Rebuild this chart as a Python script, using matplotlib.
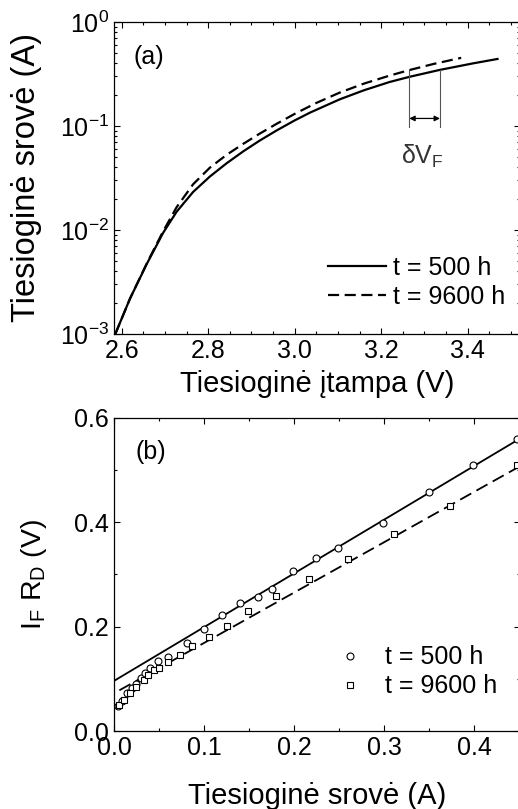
import numpy as np
import matplotlib
matplotlib.use("Agg")
import matplotlib.pyplot as plt
from matplotlib.ticker import MultipleLocator, LogLocator, NullFormatter

plt.rcParams['font.family'] = ['Liberation Sans', 'DejaVu Sans']
plt.rcParams['mathtext.fontset'] = 'custom'
plt.rcParams['mathtext.rm'] = 'Liberation Sans'
plt.rcParams['mathtext.it'] = 'Liberation Sans'
plt.rcParams['mathtext.sf'] = 'Liberation Sans'

# (a) I-V curves
v_500 = [2.585, 2.619, 2.658, 2.696, 2.727, 2.765, 2.804, 2.842, 2.881, 2.919,
         2.958, 3.000, 3.035, 3.104, 3.160, 3.219, 3.265, 3.335, 3.411, 3.469]
i_500 = [0.001, 0.00219, 0.00473, 0.00944, 0.0150, 0.0232, 0.0327, 0.0436,
         0.0570, 0.0723, 0.0904, 0.113, 0.134, 0.180, 0.220, 0.264, 0.296,
         0.345, 0.398, 0.440]
v_9600 = [2.585, 2.619, 2.658, 2.696, 2.727, 2.765, 2.804, 2.842, 2.881, 2.919,
          2.958, 3.000, 3.050, 3.104, 3.160, 3.219, 3.265, 3.320, 3.385]
i_9600 = [0.001, 0.00219, 0.00479, 0.00977, 0.0166, 0.0275, 0.0398, 0.0526,
          0.0673, 0.0843, 0.1047, 0.1306, 0.1663, 0.209, 0.255, 0.304, 0.344,
          0.393, 0.451]

# (b) I_F*R_D vs I_F
if_500 = [0.004, 0.009, 0.015, 0.020, 0.025, 0.030, 0.034, 0.040, 0.049, 0.060,
          0.081, 0.100, 0.120, 0.140, 0.160, 0.175, 0.199, 0.224, 0.249, 0.299,
          0.349, 0.398, 0.447]
ifrd_500 = [0.047, 0.058, 0.072, 0.082, 0.091, 0.101, 0.111, 0.121, 0.134, 0.142,
            0.169, 0.196, 0.222, 0.246, 0.257, 0.273, 0.307, 0.331, 0.351, 0.399,
            0.458, 0.509, 0.559]
if_9600 = [0.006, 0.011, 0.018, 0.025, 0.033, 0.038, 0.044, 0.050, 0.060, 0.073,
           0.087, 0.105, 0.125, 0.149, 0.180, 0.216, 0.260, 0.311, 0.373, 0.447]
ifrd_9600 = [0.050, 0.060, 0.072, 0.085, 0.098, 0.107, 0.116, 0.120, 0.133, 0.146,
             0.162, 0.180, 0.202, 0.230, 0.258, 0.291, 0.329, 0.377, 0.432, 0.509]
fit_x_500 = [0.0, 0.45]
fit_y_500 = [0.096, 0.560]
fit_x_9600 = [0.006, 0.45]
fit_y_9600 = [0.078, 0.507]

fig = plt.figure(figsize=(5.18, 8.09), dpi=100)
ax1 = fig.add_axes([0.220, 0.587, 0.783, 0.386])
ax2 = fig.add_axes([0.220, 0.0964, 0.783, 0.387])

fs = 18
ax1.plot(v_500, i_500, color='black', lw=1.6, label='t = 500 h')
ax1.plot(v_9600, i_9600, color='black', lw=1.6, ls=(0, (5, 2.5)), label='t = 9600 h')
ax1.set_yscale('log')
ax1.set_xlim(2.582, 3.52)
ax1.set_ylim(1e-3, 1)
ax1.xaxis.set_major_locator(MultipleLocator(0.2))
ax1.xaxis.set_minor_locator(MultipleLocator(0.05))
ax1.yaxis.set_major_locator(LogLocator(base=10, numticks=10))
ax1.yaxis.set_minor_locator(LogLocator(base=10, subs=np.arange(2, 10), numticks=20))
ax1.yaxis.set_minor_formatter(NullFormatter())
ax1.set_xlabel('Tiesioginė įtampa (V)', fontsize=21, labelpad=5)
ax1.set_ylabel('Tiesioginė srovė (A)', fontsize=23.5, labelpad=13)
ax1.text(0.087, 0.888, '(a)', transform=ax1.transAxes, fontsize=fs,
         ha='center', va='center')

# delta V_F annotation
ax1.plot([3.265, 3.265], [0.0985, 0.344], color='#555555', lw=0.8)
ax1.plot([3.336, 3.336], [0.0985, 0.345], color='#555555', lw=0.8)
ax1.annotate('', xy=(3.265, 0.118), xytext=(3.336, 0.118),
             arrowprops=dict(arrowstyle='<|-|>', color='black', lw=0.9,
                             mutation_scale=8, shrinkA=0, shrinkB=0))
ax1.text(3.295, 0.051, r'$\delta$V$_\mathregular{F}$', fontsize=fs,
         ha='center', va='center', color='#333333')
ax1.legend(loc='center right', bbox_to_anchor=(0.965, 0.165), frameon=False,
           fontsize=fs, handlelength=2.3, handletextpad=0.3, labelspacing=0.2,
           borderpad=0, borderaxespad=0)

ax2.plot(fit_x_500, fit_y_500, color='black', lw=1.3)
ax2.plot(fit_x_9600, fit_y_9600, color='black', lw=1.3, ls=(0, (7, 3.3)))
ax2.plot(if_500, ifrd_500, 'o', mfc='white', mec='black', ms=5, mew=0.8,
         label='t = 500 h')
ax2.plot(if_9600, ifrd_9600, 's', mfc='white', mec='black', ms=4.5, mew=0.8,
         label='t = 9600 h')
ax2.set_xlim(0, 0.45)
ax2.set_ylim(0, 0.6)
ax2.xaxis.set_major_locator(MultipleLocator(0.1))
ax2.xaxis.set_minor_locator(MultipleLocator(0.05))
ax2.yaxis.set_major_locator(MultipleLocator(0.2))
ax2.yaxis.set_minor_locator(MultipleLocator(0.1))
ax2.set_xlabel('Tiesioginė srovė (A)', fontsize=21, labelpad=16)
ax2.set_ylabel(r'I$_\mathregular{F}$ R$_\mathregular{D}$ (V)', fontsize=20.5, labelpad=18)
ax2.text(0.09, 0.89, '(b)', transform=ax2.transAxes, fontsize=fs,
         ha='center', va='center')
ax2.legend(loc='center right', bbox_to_anchor=(0.946, 0.189), frameon=False,
           fontsize=fs, handlelength=1, handletextpad=0.9, labelspacing=0.2,
           borderpad=0, borderaxespad=0, numpoints=1)

for ax in (ax1, ax2):
    ax.tick_params(which='both', direction='in', top=True, right=True,
                   labelsize=fs, width=0.8)
    ax.tick_params(which='major', length=4)
    ax.tick_params(which='minor', length=2)
    for s in ax.spines.values():
        s.set_linewidth(0.9)

fig.savefig('out.png', dpi=100)
